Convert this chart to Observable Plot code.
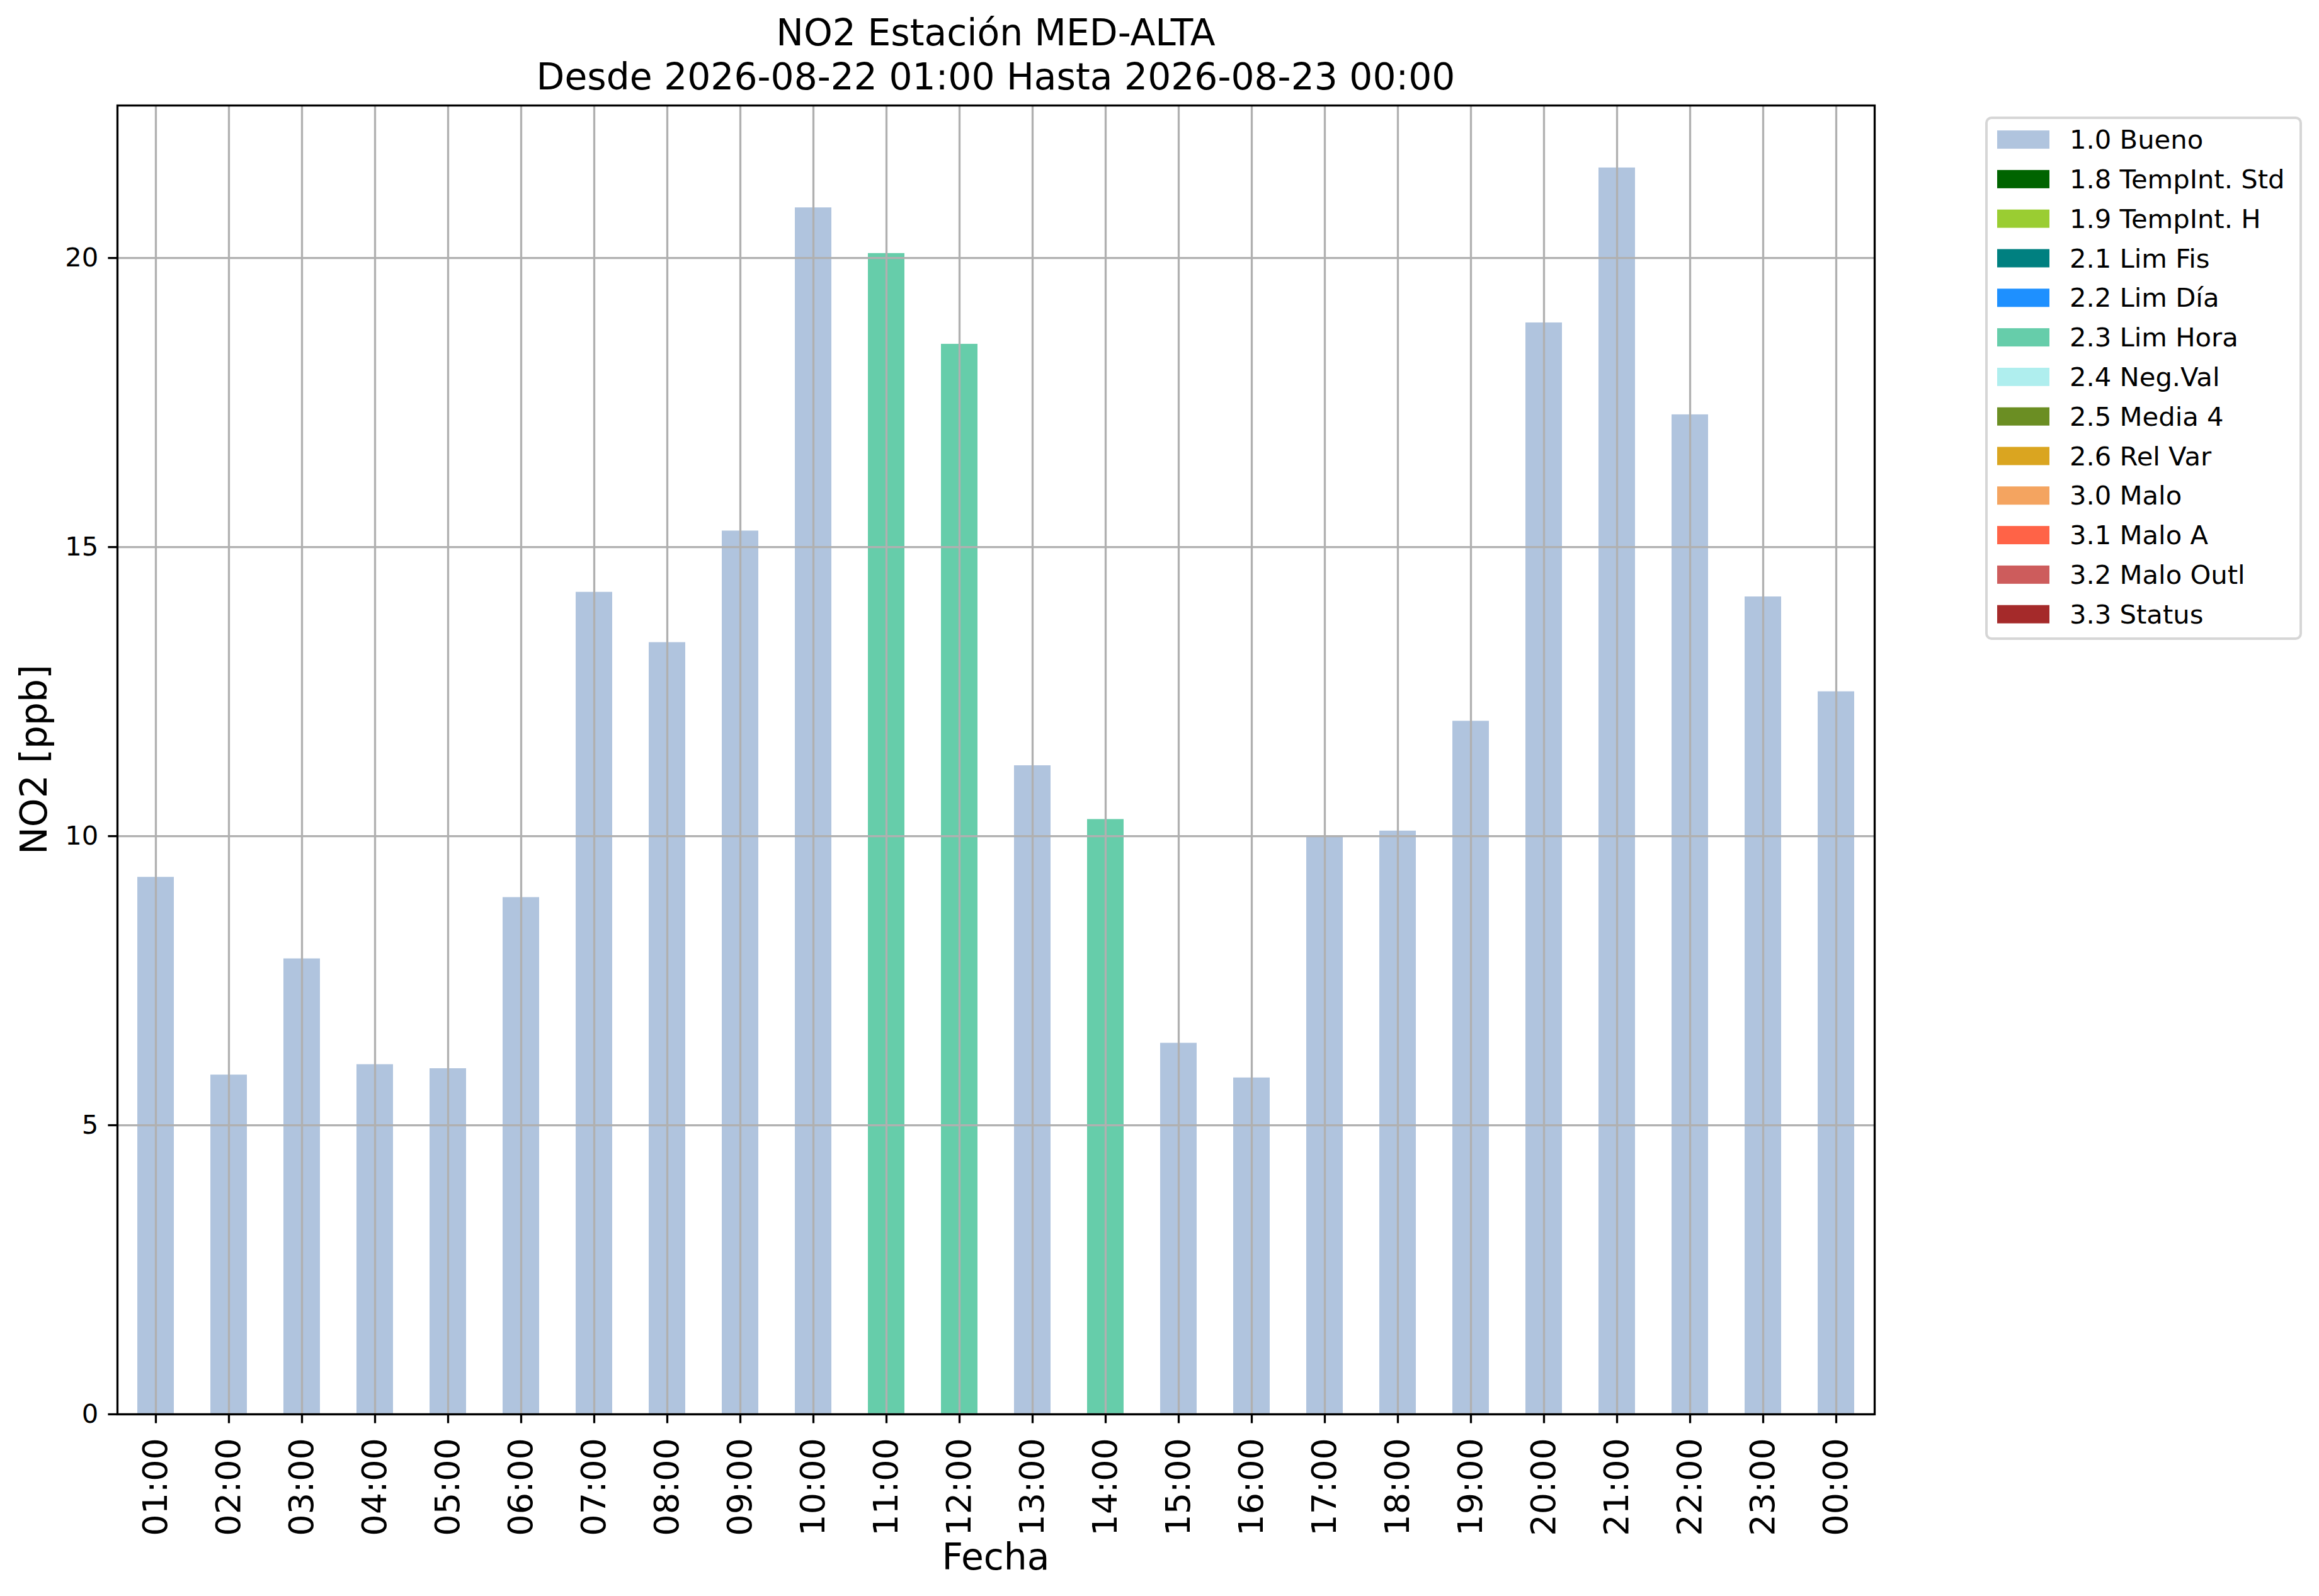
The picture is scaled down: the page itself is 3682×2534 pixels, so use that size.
<!DOCTYPE html>
<html><head><meta charset="utf-8">
<script src="https://cdn.jsdelivr.net/npm/d3@7"></script>
<script src="https://cdn.jsdelivr.net/npm/@observablehq/plot@0.6"></script>
<style>html,body{margin:0;padding:0;background:#fff;}</style>
</head><body><div id="chart"></div>
<script>
const hours = ["01:00","02:00","03:00","04:00","05:00","06:00","07:00","08:00","09:00","10:00","11:00","12:00",
               "13:00","14:00","15:00","16:00","17:00","18:00","19:00","20:00","21:00","22:00","23:00","00:00"];
const values = [9.29,5.87,7.88,6.05,5.98,8.94,14.22,13.35,15.28,20.87,20.08,18.51,
                11.22,10.29,6.42,5.82,10.00,10.09,11.99,18.88,21.56,17.29,14.14,12.50];
const barFlags = ["1.0 Bueno","1.0 Bueno","1.0 Bueno","1.0 Bueno","1.0 Bueno","1.0 Bueno","1.0 Bueno","1.0 Bueno",
                  "1.0 Bueno","1.0 Bueno","2.3 Lim Hora","2.3 Lim Hora","1.0 Bueno","2.3 Lim Hora","1.0 Bueno","1.0 Bueno",
                  "1.0 Bueno","1.0 Bueno","1.0 Bueno","1.0 Bueno","1.0 Bueno","1.0 Bueno","1.0 Bueno","1.0 Bueno"];
const flagLabels = ["1.0 Bueno","1.8 TempInt. Std","1.9 TempInt. H","2.1 Lim Fis","2.2 Lim Día","2.3 Lim Hora",
                    "2.4 Neg.Val","2.5 Media 4","2.6 Rel Var","3.0 Malo","3.1 Malo A","3.2 Malo Outl","3.3 Status"];
const flagColors = ["#B0C4DE","#006400","#9ACD32","#008080","#1E90FF","#66CDAA",
                    "#AFEEEE","#6B8E23","#DAA520","#F4A460","#FF6347","#CD5C5C","#A52A2A"];
const yTicks = [0, 5, 10, 15, 20];
const yTickLabels = ["0", "5", "10", "15", "20"];
const titleLines = ["NO2 Estación MED-ALTA", "Desde 2026-08-22 01:00 Hasta 2026-08-23 00:00"];
const xLabel = "Fecha";
const yLabel = "NO2 [ppb]";

(function () {
const W = 3682, H = 2534;
const pL = 186, pR = 2976, pT = 167, pB = 2245;
const FONT = "DejaVu Sans";
const yMax = d3.max(values) * 1.05;

const data = hours.map((h, i) => ({hour: h, value: values[i], flag: barFlags[i]}));

const plot = Plot.plot({
  width: W, height: H,
  marginLeft: pL, marginRight: W - pR, marginTop: pT, marginBottom: H - pB,
  style: {fontFamily: FONT, background: "#fff", color: "#000", overflow: "visible"},
  x: {type: "band", domain: hours, paddingInner: 0.5, paddingOuter: 0.25},
  y: {domain: [0, yMax]},
  color: {domain: flagLabels, range: flagColors},
  marks: [
    Plot.barY(data, {x: "hour", y: "value", fill: "flag"}),
    Plot.gridX(hours, {stroke: "#b0b0b0", strokeOpacity: 1, strokeWidth: 3.3}),
    Plot.gridY(yTicks, {stroke: "#b0b0b0", strokeOpacity: 1, strokeWidth: 3.3}),
    Plot.frame({stroke: "#000", strokeWidth: 3.3}),
    Plot.axisX({tickSize: 14.6, tickPadding: 23, tickRotate: -90, fontSize: 54, label: null, strokeWidth: 3.3}),
    Plot.axisY(yTicks, {tickSize: 14.6, tickPadding: 15.6, fontSize: 41.7, label: null, strokeWidth: 3.3,
                        tickFormat: d => yTickLabels[yTicks.indexOf(d)]})
  ]
});

const svg = d3.select(plot);
const cx = (pL + pR) / 2;

svg.append("g").selectAll("text").data(titleLines).join("text")
  .attr("x", cx).attr("y", (d, i) => 72 + i * 70)
  .attr("text-anchor", "middle").attr("font-family", FONT).attr("font-size", 58.3).attr("fill", "#000")
  .text(d => d);

svg.append("text").attr("x", cx).attr("y", 2492).attr("text-anchor", "middle")
  .attr("font-family", FONT).attr("font-size", 58.3).attr("fill", "#000").text(xLabel);
svg.append("text").attr("transform", `translate(74,${(pT + pB) / 2}) rotate(-90)`)
  .attr("text-anchor", "middle").attr("font-family", FONT).attr("font-size", 58.3).attr("fill", "#000").text(yLabel);

const lg = svg.append("g").attr("text-anchor", "start");
lg.append("rect").attr("x", 3154).attr("y", 187).attr("width", 499).attr("height", 827)
  .attr("rx", 8).attr("fill", "#fff").attr("fill-opacity", 0.8).attr("stroke", "#d6d6d6").attr("stroke-width", 4);
const rowY = i => 221.6 + 62.8 * i;
lg.selectAll("rect.sw").data(flagLabels).join("rect").attr("class", "sw")
  .attr("x", 3171).attr("y", (d, i) => rowY(i) - 14.5).attr("width", 83).attr("height", 29)
  .attr("fill", (d, i) => flagColors[i]);
lg.selectAll("text").data(flagLabels).join("text")
  .attr("x", 3286).attr("y", (d, i) => rowY(i) + 14.5).attr("text-anchor", "start")
  .attr("font-family", FONT).attr("font-size", 41.7).attr("fill", "#000").text(d => d);

document.getElementById("chart").appendChild(plot);
})();
</script>
</body></html>
